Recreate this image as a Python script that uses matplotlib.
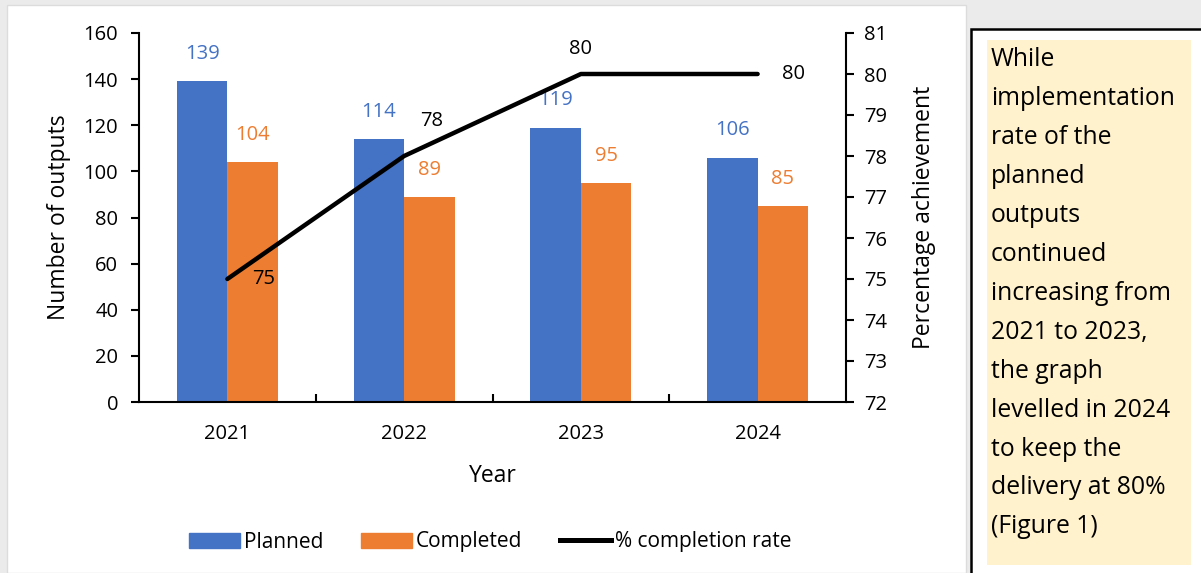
import matplotlib.pyplot as plt
import numpy as np
from matplotlib.patches import Rectangle
from matplotlib.lines import Line2D

plt.rcParams["font.family"] = ["Open Sans", "DejaVu Sans"]

years = ["2021", "2022", "2023", "2024"]
planned = [139, 114, 119, 106]
completed = [104, 89, 95, 85]
completion_rate = [75, 78, 80, 80]

note_lines = [
    "While",
    "implementation",
    "rate of the",
    "planned",
    "outputs",
    "continued",
    "increasing from",
    "2021 to 2023,",
    "the graph",
    "levelled in 2024",
    "to keep the",
    "delivery at 80%",
    "(Figure 1)",
]

BLUE = "#4472C4"
ORANGE = "#ED7D31"
W, H = 1201, 573
FS = 14.5

fig = plt.figure(figsize=(W / 100, H / 100), dpi=100, facecolor="#ebebeb")


def px(x, y):
    # pixel coords (from top-left) -> figure fraction
    return x / W, 1 - y / H


# white chart panel
fig.patches.append(Rectangle(px(7, H), 959 / W, (H - 5) / H, transform=fig.transFigure,
                             facecolor="white", edgecolor="#dcdcdc", lw=1, zorder=-2))
# note box with border and highlighted text
fig.patches.append(Rectangle(px(971, H + 10), 300 / W, (H - 29 + 10) / H, transform=fig.transFigure,
                             facecolor="white", edgecolor="black", lw=1.8, zorder=-2))
fig.patches.append(Rectangle(px(987, 565), 204 / W, 525 / H, transform=fig.transFigure,
                             facecolor="#FFF2CC", edgecolor="none", zorder=-1))
for i, line in enumerate(note_lines):
    fig.text(*px(991, 60 + i * 38.9), line, fontsize=17.8, va="center", ha="left", color="black")

l, b = px(139, 402)
r, t = px(846, 33)
ax = fig.add_axes([l, b, r - l, t - b])
ax.set_facecolor("none")

x = np.arange(len(years))
width = 1 / 3.5
ax.bar(x - width / 2, planned, width, color=BLUE, label="Planned", zorder=2)
ax.bar(x + width / 2, completed, width, color=ORANGE, label="Completed", zorder=2)

for i in range(len(x)):
    ax.annotate(str(planned[i]), (x[i] - width / 2, planned[i]), xytext=(0, 19.5),
                textcoords="offset points", ha="center", va="center", color=BLUE, fontsize=FS)
    ax.annotate(str(completed[i]), (x[i] + width / 2, completed[i]), xytext=(0, 19.5),
                textcoords="offset points", ha="center", va="center", color=ORANGE, fontsize=FS)

ax.set_xlim(-0.5, 3.5)
ax.set_ylim(0, 160)
ax.set_yticks(range(0, 161, 20))
ax.set_xticks(x)
ax.set_xticklabels(years)
ax.set_xticks([0.5, 1.5, 2.5], minor=True)
ax.tick_params(axis="x", which="major", length=0, pad=16, labelsize=FS)
ax.tick_params(axis="x", which="minor", direction="in", length=6, width=1.5)
ax.tick_params(axis="y", direction="out", length=6, width=1.5, labelsize=FS, pad=9)
for side in ["top", "right"]:
    ax.spines[side].set_visible(False)
for side in ["left", "bottom"]:
    ax.spines[side].set_linewidth(1.5)
ax.set_ylabel("Number of outputs", fontsize=16.5, labelpad=9)
ax.set_xlabel("Year", fontsize=16.5, labelpad=14)

ax2 = ax.twinx()
ax2.plot(x, completion_rate, color="black", lw=3.2, solid_capstyle="round", zorder=3)
ax2.set_ylim(72, 81)
ax2.set_yticks(range(72, 82))
ax2.tick_params(axis="y", direction="out", length=6, width=1.5, labelsize=FS, pad=7)
for side in ["top", "left", "bottom"]:
    ax2.spines[side].set_visible(False)
ax2.spines["right"].set_linewidth(1.5)
ax2.set_ylabel("Percentage achievement", fontsize=16.5, labelpad=18)

# rate labels, placed beside the points
label_offsets = [(26, 0), (20, 25), (0, 18), (26, 0)]
for i in range(len(x)):
    ax2.annotate(str(completion_rate[i]), (x[i], completion_rate[i]), xytext=label_offsets[i],
                 textcoords="offset points", ha="center", va="center", color="black", fontsize=FS)

handles = [
    Rectangle((0, 0), 1, 1, color=BLUE),
    Rectangle((0, 0), 1, 1, color=ORANGE),
    Line2D([], [], color="black", lw=3.6),
]
fig.legend(handles, ["Planned", "Completed", "% completion rate"], loc="center",
           bbox_to_anchor=px(490, 542), ncol=3, frameon=False, fontsize=15,
           handlelength=2.45, handletextpad=0.2, columnspacing=1.8)

fig.savefig("out.png", dpi=100, facecolor=fig.get_facecolor())
